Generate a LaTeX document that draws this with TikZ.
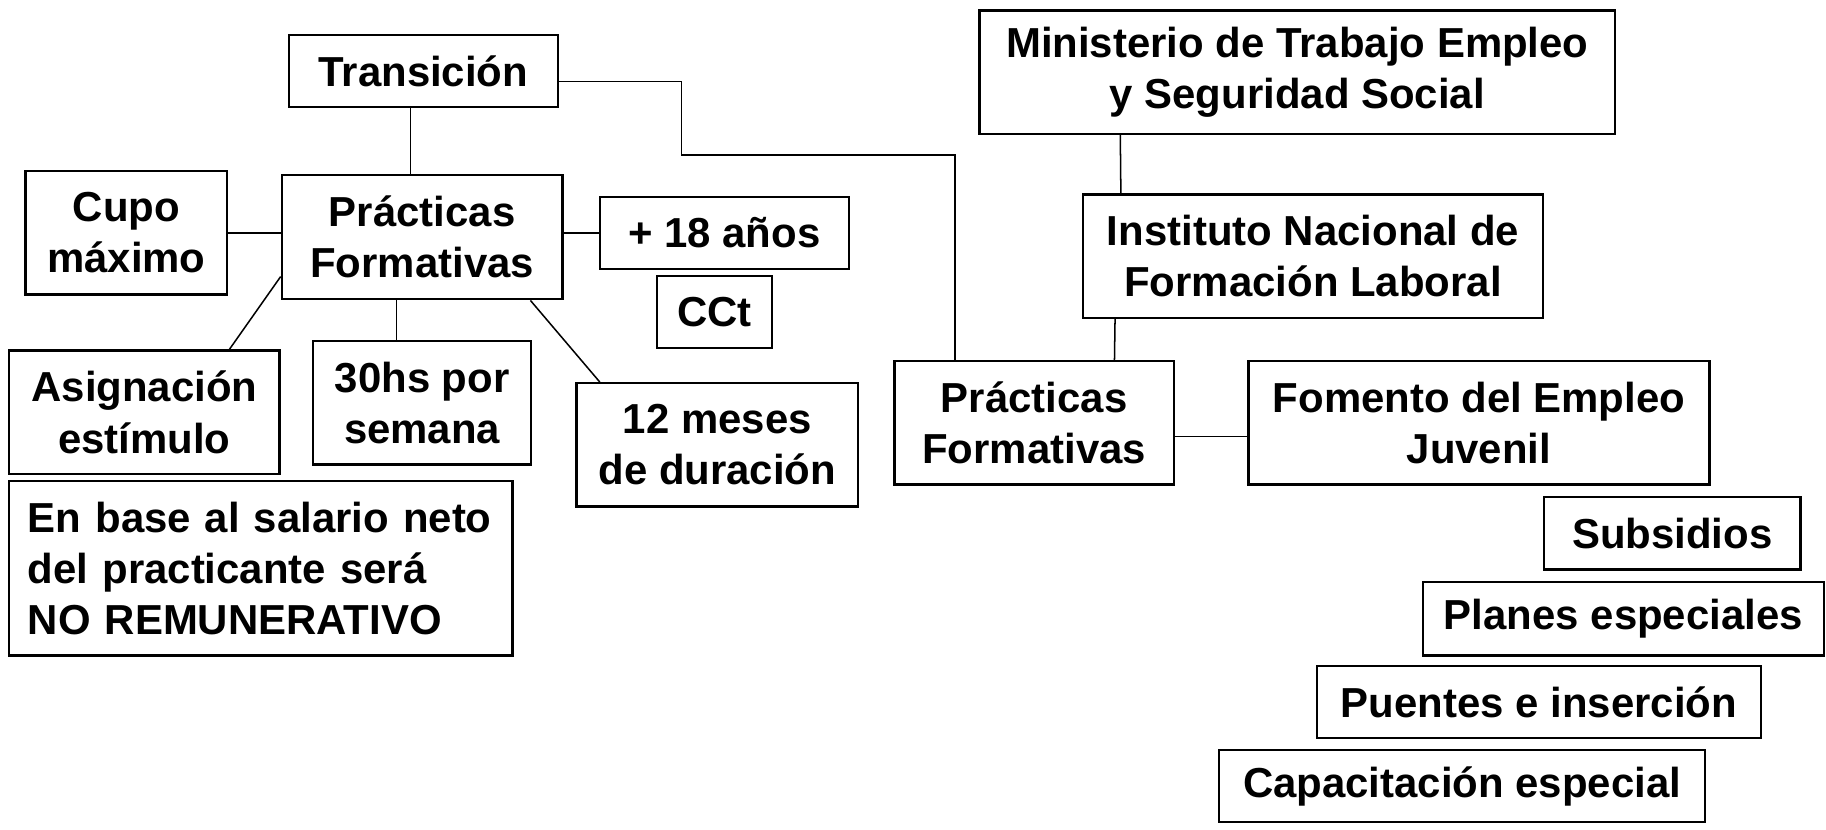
\documentclass[tikz,border=0pt]{standalone}
\usepackage{fontspec}
\setmainfont{Liberation Sans}
\usepackage{tikz}
\usetikzlibrary{positioning}

\begin{document}
\begin{tikzpicture}[x=1pt, y=-1pt,
				caja/.style={draw=black, line width=2pt, align=center, inner sep=2pt,
					font=\bfseries\fontsize{36}{44}\selectfont},
				linea/.style={draw=black, line width=1.3pt},
				]
				\useasboundingbox (0,0) rectangle (1568,712);

				%Nodes
				\node[caja, minimum width=231pt, minimum height=62pt]	(trans)		at (363.5,61)	{Transición};
				\node[caja, minimum width=173pt, minimum height=106pt]	(cupo)		at (108.5,200)	{Cupo\\máximo};
				\node[caja, minimum width=241pt, minimum height=107pt]	(prac)		at (362.5,203.5)	{Prácticas\\Formativas};
				\node[caja, minimum width=214pt, minimum height=62pt]	(edad)		at (622,200)	{+ 18 años};
				\node[caja, minimum width=99pt, minimum height=62pt]	(cct)		at (613.5,268)	{CCt};
				\node[caja, minimum width=232pt, minimum height=106pt]	(asig)		at (124,354)	{Asignación\\estímulo};
				\node[caja, minimum width=187pt, minimum height=106pt]	(horas)		at (362.5,346)	{30hs por\\semana};
				\node[caja, minimum width=242pt, minimum height=106pt]	(meses)		at (616,382)	{12 meses\\de duración};
				\node[caja, align=left, text width=400pt, inner xsep=16pt, inner ysep=2pt, minimum height=150pt]	(salario)	at (224,488)
					{En base al salario neto\\del practicante será\\NO REMUNERATIVO};

				\node[caja, minimum width=546pt, minimum height=106pt]	(minis)		at (1114,62)	{Ministerio de Trabajo Empleo\\y Seguridad Social};
				\node[caja, minimum width=395pt, minimum height=106pt]	(inst)		at (1127.5,220)	{Instituto Nacional de\\Formación Laboral};
				\node[caja, minimum width=240pt, minimum height=106pt]	(pracb)		at (888,363)	{Prácticas\\Formativas};
				\node[caja, minimum width=396pt, minimum height=106pt]	(fomento)	at (1270,363)	{Fomento del Empleo\\Juvenil};
				\node[caja, minimum width=220pt, minimum height=62pt]	(subs)		at (1436,458)	{Subsidios};
				\node[caja, minimum width=344pt, minimum height=63pt]	(planes)	at (1394,531.5)	{Planes especiales};
				\node[caja, minimum width=381pt, minimum height=62pt]	(puentes)	at (1321.5,603)	{Puentes e inserción};
				\node[caja, minimum width=417pt, minimum height=62pt]	(capac)		at (1255.5,675)	{Capacitación especial};

				\coordinate (codo) at (585,133);

				%Lines
				\draw[linea]	([xshift=-11pt]trans.south) -- ([xshift=-10pt]prac.north);
				\draw[linea]	([yshift=-9pt]trans.east) -| (codo) -| ([xshift=-68pt]pracb.north);
				\draw[linea]	(cupo.east) -- (cupo.east -| prac.west);
				\draw[linea]	(edad.west -| prac.east) -- (edad.west);
				\draw[linea]	([yshift=-34pt]prac.west) -- ([xshift=73pt]asig.north);
				\draw[linea]	([xshift=-22pt]prac.south) -- ([xshift=-22pt]horas.north);
				\draw[linea]	([xshift=93pt]prac.south) -- ([xshift=-101pt]meses.north);
				\draw[linea]	([xshift=-152pt]minis.south) -- ([xshift=-165pt]inst.north);
				\draw[linea]	([xshift=-170pt]inst.south) -- ([xshift=69pt]pracb.north);
				\draw[linea]	([yshift=-12pt]pracb.east) -- ([yshift=-12pt]fomento.west);
\end{tikzpicture}
\end{document}
